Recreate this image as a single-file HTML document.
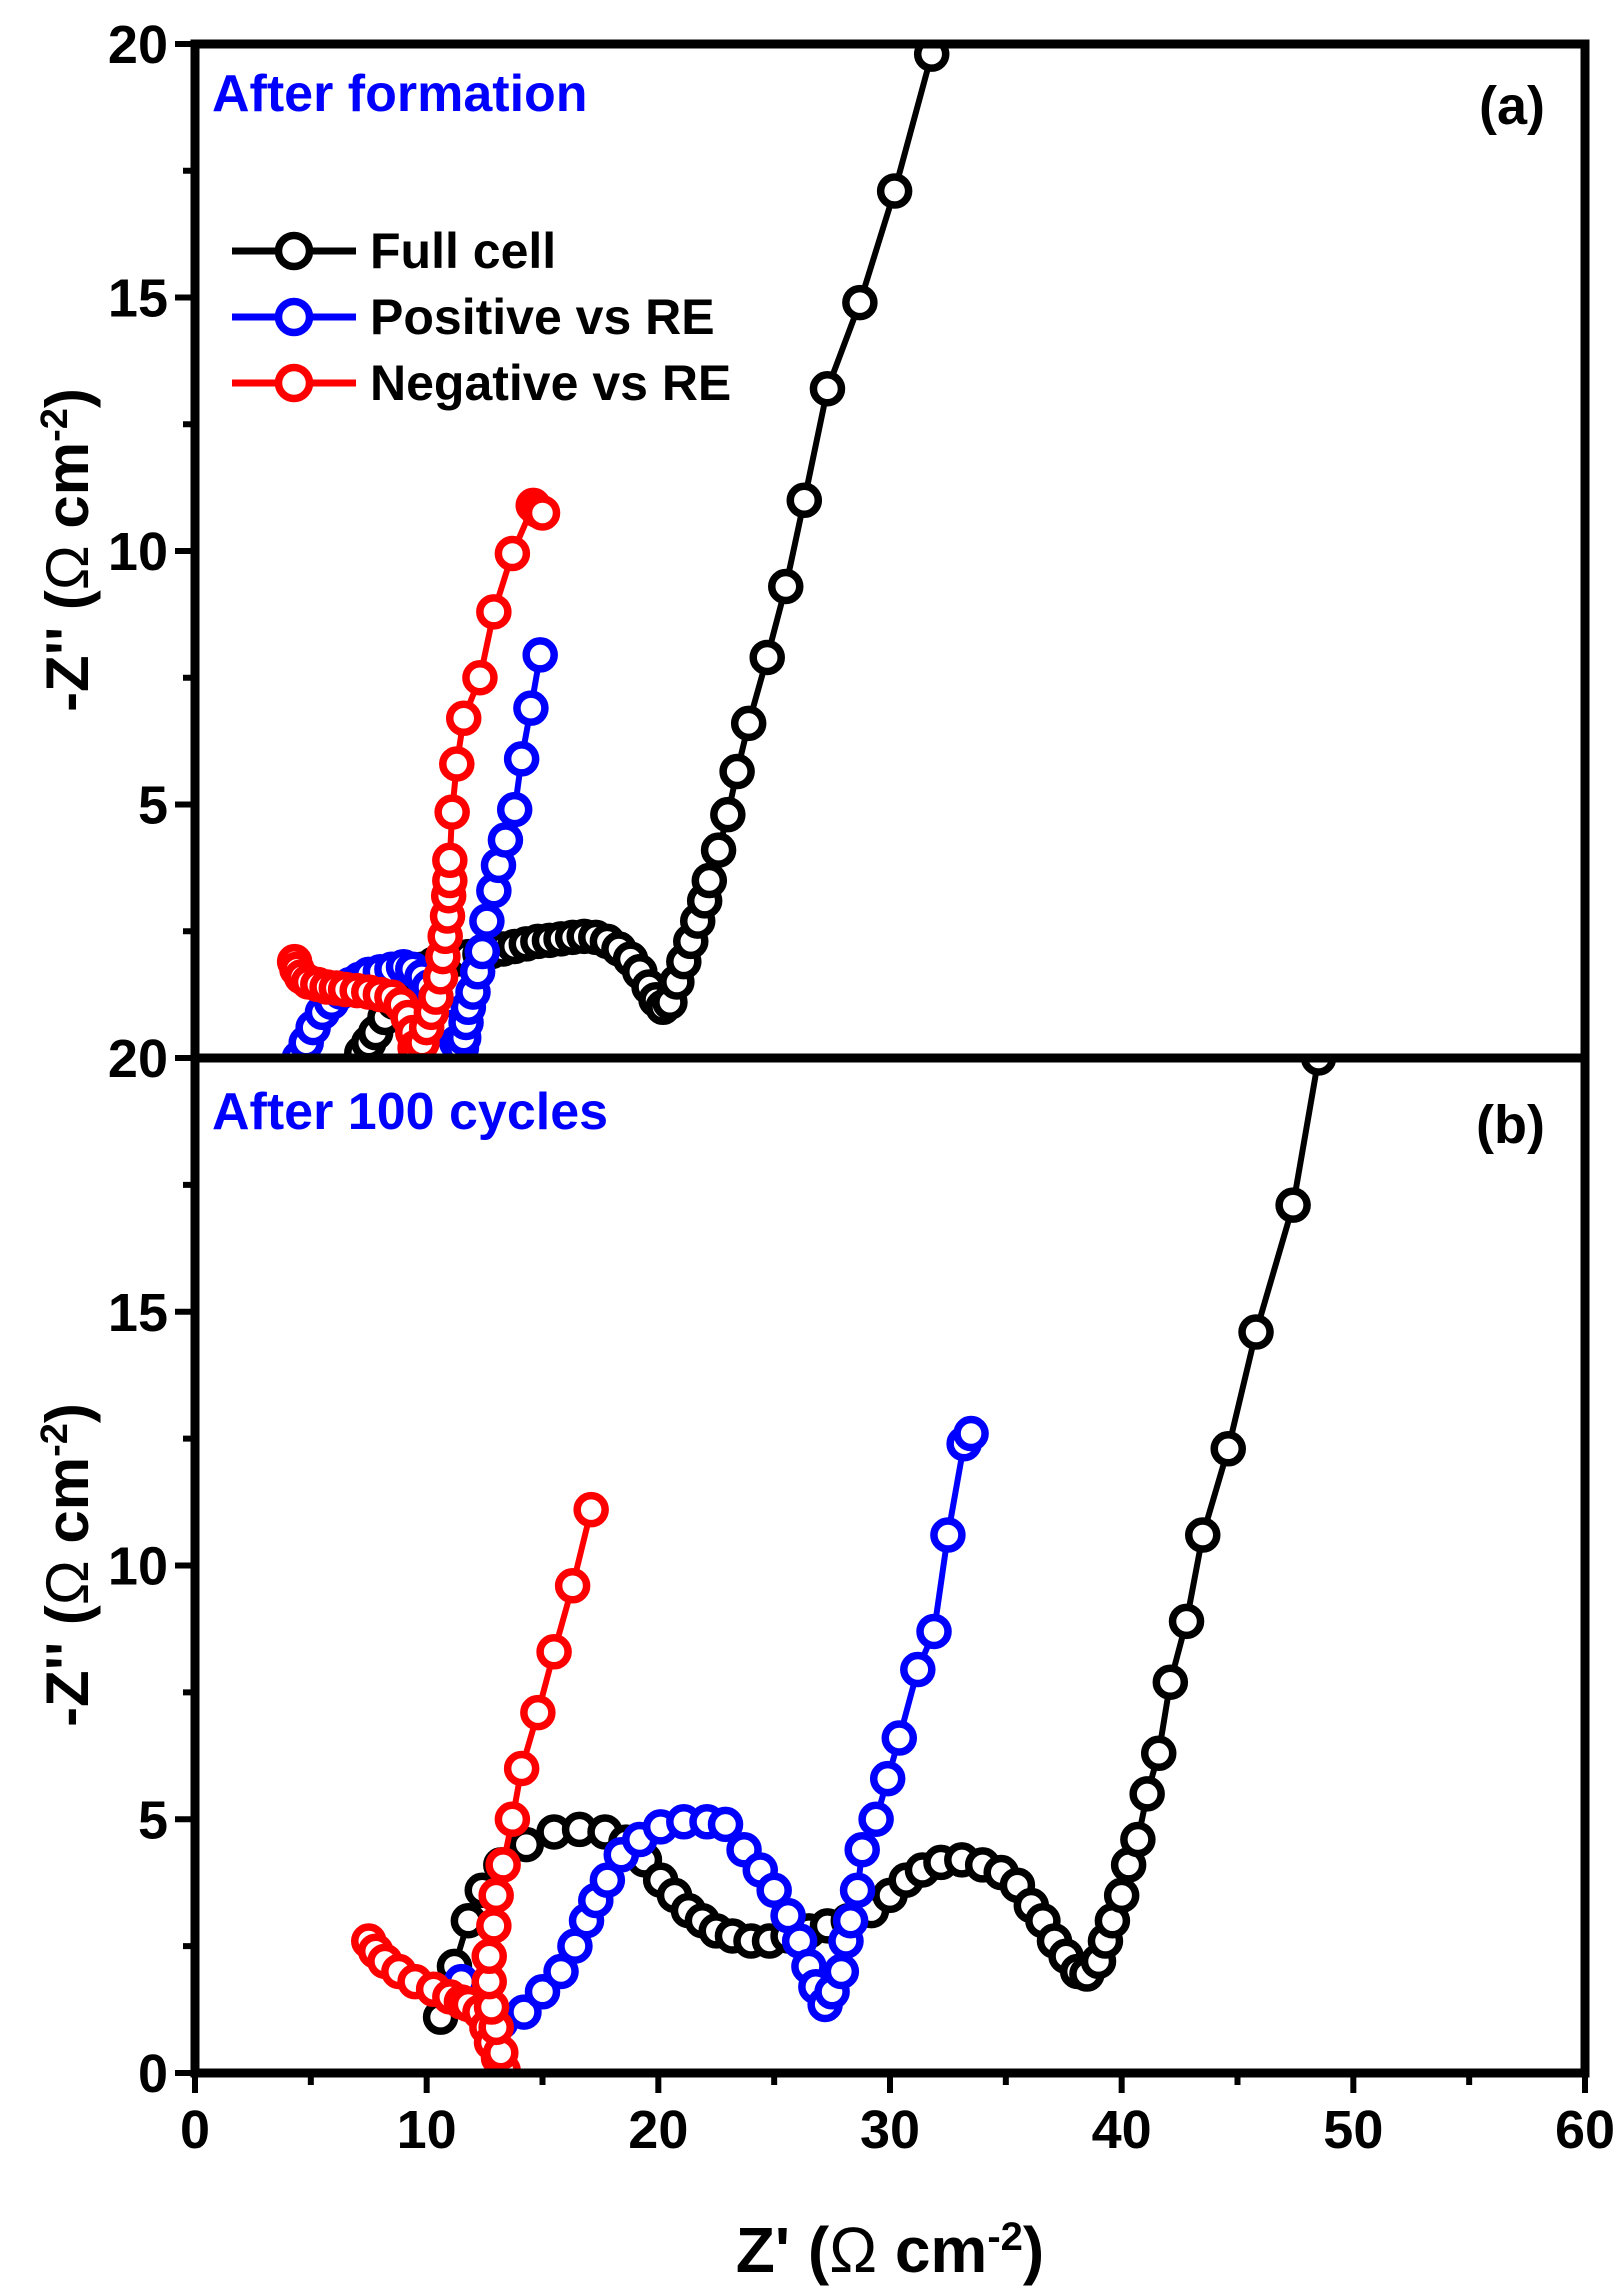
<!DOCTYPE html>
<html><head><meta charset="utf-8"><style>
html,body{margin:0;padding:0;background:#fff;}
svg{display:block;}
text{font-family:"Liberation Sans",sans-serif;font-weight:bold;}
</style></head><body>
<svg id="chart" width="1616" height="2295" viewBox="0 0 1616 2295" xmlns="http://www.w3.org/2000/svg"></svg>
<script>
// Panel (a): After formation
const aFullX=[7.2,7.5,7.8,8.2,8.6,9.0,9.4,9.8,10.3,10.8,11.3,11.8,12.3,12.8,13.3,13.8,14.3,14.8,15.3,15.8,16.3,16.8,17.3,17.8,18.3,18.8,19.2,19.6,19.9,20.2,20.5,20.8,21.1,21.4,21.7,22.0,22.2,22.6,23.0,23.4,23.9,24.7,25.5,26.3,27.3,28.7,30.2,31.8];
const aFullY=[0.1,0.3,0.5,0.8,1.1,1.4,1.6,1.75,1.85,1.9,1.95,2.0,2.05,2.1,2.15,2.2,2.25,2.3,2.32,2.35,2.38,2.4,2.38,2.3,2.15,1.95,1.7,1.4,1.15,1.0,1.1,1.5,1.9,2.3,2.7,3.1,3.5,4.1,4.8,5.65,6.6,7.9,9.3,11.0,13.2,14.9,17.1,19.8];
const aPosX=[4.5,4.8,5.1,5.5,5.9,6.3,6.7,7.1,7.5,8.0,8.5,9.0,9.4,9.8,10.1,10.4,10.7,11.0,11.3,11.5,11.6,11.7,11.8,12.0,12.2,12.4,12.6,12.9,13.1,13.4,13.8,14.1,14.5,14.9];
const aPosY=[0.0,0.3,0.6,0.9,1.1,1.3,1.45,1.55,1.65,1.7,1.75,1.8,1.75,1.6,1.4,1.2,0.9,0.6,0.3,0.2,0.4,0.7,1.0,1.3,1.7,2.1,2.7,3.3,3.8,4.3,4.9,5.9,6.9,7.95];
const aNegX=[4.3,4.4,4.6,4.9,5.3,5.7,6.1,6.5,7.0,7.5,8.0,8.5,8.9,9.2,9.4,9.5,9.6,9.8,10.0,10.2,10.4,10.6,10.7,10.8,10.9,10.95,11.0,11.0,11.1,11.3,11.6,12.3,12.9,13.7,14.6,14.8,15.0];
const aNegY=[1.9,1.75,1.6,1.5,1.45,1.4,1.38,1.35,1.33,1.3,1.25,1.2,1.05,0.8,0.5,0.2,0.05,0.3,0.6,0.9,1.2,1.6,2.0,2.4,2.8,3.2,3.5,3.9,4.85,5.8,6.7,7.5,8.8,9.95,10.9,10.8,10.75];
// Panel (b): After 100 cycles
const bFullX=[10.6,11.2,11.8,12.4,13.2,14.3,15.5,16.6,17.7,18.6,19.4,20.1,20.7,21.3,21.9,22.5,23.2,24.0,24.8,25.6,26.5,27.3,28.2,29.2,30.0,30.7,31.4,32.2,33.1,34.0,34.8,35.5,36.1,36.6,37.1,37.6,38.1,38.5,39.0,39.3,39.6,40.0,40.3,40.7,41.1,41.6,42.1,42.8,43.5,44.6,45.8,47.4,48.5];
const bFullY=[1.1,2.1,3.0,3.6,4.1,4.5,4.75,4.8,4.75,4.55,4.2,3.8,3.5,3.2,3.0,2.8,2.7,2.6,2.6,2.7,2.8,2.9,3.0,3.2,3.5,3.8,4.0,4.15,4.2,4.1,3.95,3.7,3.3,3.0,2.6,2.3,2.0,1.95,2.2,2.6,3.0,3.5,4.1,4.6,5.5,6.3,7.7,8.9,10.6,12.3,14.6,17.1,20.0];
const bPosX=[11.5,12.2,13.2,14.2,15.0,15.8,16.4,16.9,17.3,17.8,18.4,19.2,20.1,21.1,22.1,22.9,23.7,24.4,25.0,25.6,26.1,26.5,26.8,27.2,27.5,27.9,28.1,28.3,28.6,28.8,29.4,29.9,30.4,31.2,31.9,32.5,33.2,33.5];
const bPosY=[1.8,1.3,1.0,1.2,1.6,2.0,2.5,3.0,3.4,3.8,4.3,4.6,4.85,4.95,4.95,4.9,4.4,4.0,3.6,3.1,2.6,2.1,1.7,1.35,1.6,2.0,2.6,3.0,3.6,4.4,5.0,5.8,6.6,7.95,8.7,10.6,12.4,12.6];
const bNegX=[7.5,7.8,8.2,8.8,9.5,10.3,11.0,11.5,11.8,12.3,12.6,12.8,13.1,13.3,13.2,13.0,12.8,12.7,12.7,12.9,13.0,13.3,13.7,14.1,14.8,15.5,16.3,17.1];
const bNegY=[2.6,2.4,2.2,2.0,1.8,1.65,1.5,1.4,1.35,1.2,0.9,0.6,0.3,0.05,0.4,0.9,1.3,1.8,2.3,2.9,3.5,4.1,5.0,6.0,7.1,8.3,9.6,11.1];
const xTicks=[0,10,20,30,40,50,60];
const yTicksA=[20,15,10,5];
const yTicksB=[20,15,10,5,0];

const NS="http://www.w3.org/2000/svg";
const svg=document.getElementById('chart');
const L=195,R=1585;
const panels=[{top:44,bot:1058},{top:1058,bot:2073}];
function sx(v){return L+(v-0)/(60-0)*(R-L);}
function syP(p,v){return p.bot-(v/20)*(p.bot-p.top);}
function mk(tag,attrs,parent){const e=document.createElementNS(NS,tag);for(const k in attrs)e.setAttribute(k,attrs[k]);(parent||svg).appendChild(e);return e;}

const defs=mk('defs',{});
panels.forEach((p,i)=>{const cp=mk('clipPath',{id:'clip'+i},defs);mk('rect',{x:L,y:p.top,width:R-L,height:p.bot-p.top},cp);});

function drawSeries(pi,xs,ys,color,name){
  const p=panels[pi];
  const g=mk('g',{'clip-path':'url(#clip'+pi+')'});
  
  
  let d='';
  for(let i=0;i<xs.length;i++){d+=(i?'L':'M')+sx(xs[i]).toFixed(1)+' '+syP(p,ys[i]).toFixed(1);}
  const path=mk('path',{d:d,fill:'none',stroke:color,'stroke-width':6},g);
  
  
  for(let i=0;i<xs.length;i++){
    const c=mk('circle',{cx:sx(xs[i]),cy:syP(p,ys[i]),r:14,fill:'#fff',stroke:color,'stroke-width':7.5},g);
    
    
  }
}
drawSeries(0,aFullX,aFullY,'#000','a-full-cell');
drawSeries(0,aPosX,aPosY,'#0000ff','a-positive-vs-re');
drawSeries(0,aNegX,aNegY,'#ff0000','a-negative-vs-re');
drawSeries(1,bFullX,bFullY,'#000','b-full-cell');
drawSeries(1,bPosX,bPosY,'#0000ff','b-positive-vs-re');
drawSeries(1,bNegX,bNegY,'#ff0000','b-negative-vs-re');

panels.forEach((p,i)=>{
  const f=mk('rect',{x:L,y:p.top,width:R-L,height:p.bot-p.top,fill:'none',stroke:'#000','stroke-width':9});
  
  
  for(let v=0;v<=20;v+=2.5){
    const y=syP(p,v);const major=(v%5===0);
    const t=mk('line',{x1:L-(major?20:12),x2:L,y1:y,y2:y,stroke:'#000','stroke-width':6});
    
    
  }
  const labs=i?yTicksB:yTicksA;
  labs.forEach(v=>{
    const tx=mk('text',{x:L-27,y:syP(p,v)+19,'text-anchor':'end','font-size':54});
    
    
    tx.textContent=v;
  });
});
for(let v=0;v<=60;v+=5){
  const x=sx(v);const major=(v%10===0);
  const t=mk('line',{x1:x,x2:x,y1:2073,y2:2073+(major?20:12),stroke:'#000','stroke-width':6});
  
  
}
xTicks.forEach(v=>{
  const tx=mk('text',{x:sx(v),y:2148,'text-anchor':'middle','font-size':54});
  
  
  tx.textContent=v;
});
</script>
<svg style="position:absolute;left:0;top:0" width="1616" height="2295">
  <text x="212" y="111" font-size="52" fill="#0000ff" style="font-family:'Liberation Sans',sans-serif;font-weight:bold">After formation</text>
  <text x="1545" y="124" font-size="54" text-anchor="end" style="font-family:'Liberation Sans',sans-serif;font-weight:bold">(a)</text>
  <text x="212" y="1129" font-size="52" fill="#0000ff" style="font-family:'Liberation Sans',sans-serif;font-weight:bold">After 100 cycles</text>
  <text x="1545" y="1143" font-size="54" text-anchor="end" style="font-family:'Liberation Sans',sans-serif;font-weight:bold">(b)</text>
  <g style="font-family:'Liberation Sans',sans-serif;font-weight:bold" font-size="50">
    <g>
      <line x1="232" y1="251" x2="356" y2="251" stroke="#000" stroke-width="7"/>
      <circle cx="294" cy="251" r="15.5" fill="#fff" stroke="#000" stroke-width="7.5"/>
      <text x="370" y="268">Full cell</text>
    </g>
    <g>
      <line x1="232" y1="317" x2="356" y2="317" stroke="#0000ff" stroke-width="7"/>
      <circle cx="294" cy="317" r="15.5" fill="#fff" stroke="#0000ff" stroke-width="7.5"/>
      <text x="370" y="334">Positive vs RE</text>
    </g>
    <g>
      <line x1="232" y1="383" x2="356" y2="383" stroke="#ff0000" stroke-width="7"/>
      <circle cx="294" cy="383" r="15.5" fill="#fff" stroke="#ff0000" stroke-width="7.5"/>
      <text x="370" y="400">Negative vs RE</text>
    </g>
  </g>
  <text transform="translate(88,550) rotate(-90)" text-anchor="middle" font-size="60" style="font-family:'Liberation Sans',sans-serif;font-weight:bold">-Z'' (<tspan font-weight="normal">Ω</tspan> cm<tspan baseline-shift="super" font-size="38">-2</tspan>)</text>
  <text transform="translate(88,1565) rotate(-90)" text-anchor="middle" font-size="60" style="font-family:'Liberation Sans',sans-serif;font-weight:bold">-Z'' (<tspan font-weight="normal">Ω</tspan> cm<tspan baseline-shift="super" font-size="38">-2</tspan>)</text>
  <text x="890" y="2272" text-anchor="middle" font-size="64" style="font-family:'Liberation Sans',sans-serif;font-weight:bold">Z' (<tspan font-weight="normal">Ω</tspan> cm<tspan baseline-shift="super" font-size="40">-2</tspan>)</text>
</svg>
</body></html>
